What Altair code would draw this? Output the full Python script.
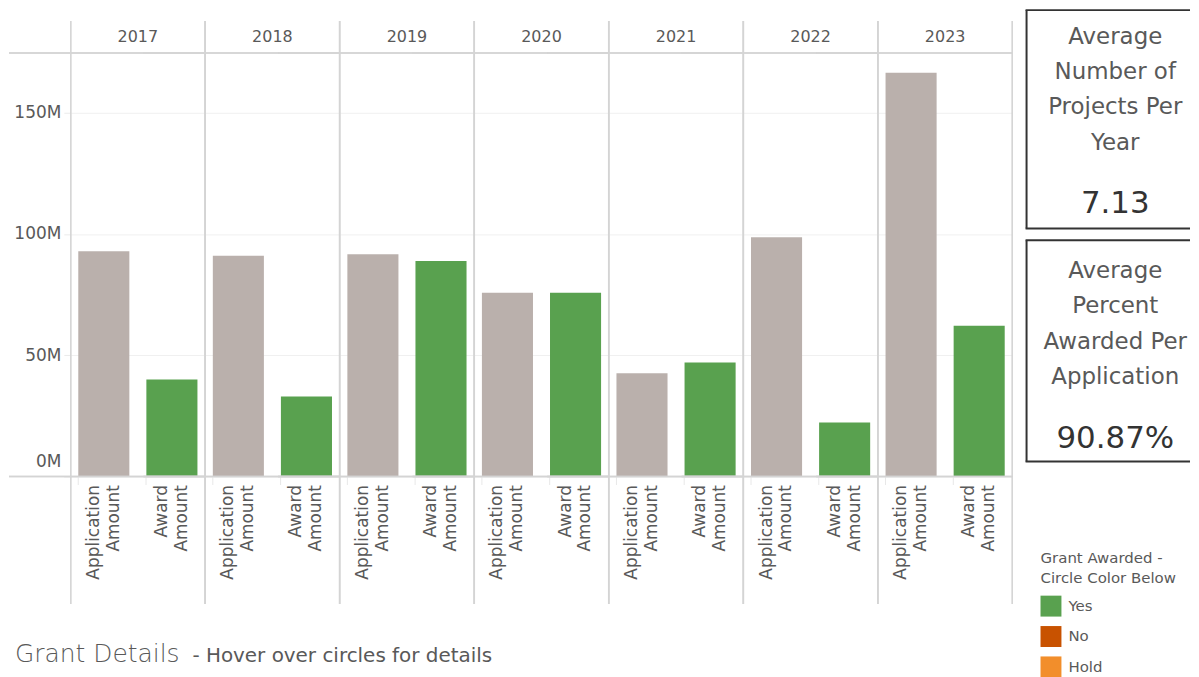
import altair as alt
import pandas as pd

# ---------------- data ----------------
years = ["2017", "2018", "2019", "2020", "2021", "2022", "2023"]
application_amount_m = [92.9, 91.0, 91.6, 75.8, 42.6, 98.6, 166.4]
award_amount_m = [40.0, 33.0, 88.9, 75.8, 47.0, 22.3, 62.2]
measures = ["Application Amount", "Award Amount"]
measure_colors = ["#BAB0AC", "#59A14F"]
y_tick_values_m = [0, 50, 100, 150]
y_max_m = 174.6

kpi_titles = ["Average\nNumber of\nProjects Per\nYear",
              "Average\nPercent\nAwarded Per\nApplication"]
kpi_values = ["7.13", "90.87%"]

legend_title = ["Grant Awarded -", "Circle Color Below"]
legend_labels = ["Yes", "No", "Hold"]
legend_colors = ["#59A14F", "#C85200", "#F28E2B"]

details_title = "Grant Details"
details_subtitle = "- Hover over circles for details"

rows = []
for i, yr in enumerate(years):
    rows.append({"year": yr, "measure": measures[0], "value": application_amount_m[i] * 1e6})
    rows.append({"year": yr, "measure": measures[1], "value": award_amount_m[i] * 1e6})
df = pd.DataFrame(rows)

FONT = "DejaVu Sans"
TXT = "#595959"
LINE = "#d4d4d4"
W, H = 134.6, 425

# ---------------- bar facets ----------------
y_axis = alt.Axis(
    values=[v * 1e6 for v in y_tick_values_m],
    labelExpr="(datum.value / 1e6) + 'M'",
    labelFont=FONT, labelFontSize=17, labelColor=TXT, labelPadding=3,
    tickSize=7, tickColor="#ebebeb", domain=False,
    grid=True, gridColor="#f0f0f0", gridWidth=1,
    minExtent=62, maxExtent=62,
    labelOffset={"condition": {"test": "datum.value == 0", "value": -15}, "value": 0},
)
x_axis = alt.Axis(
    labelAngle=-90, labelExpr="split(datum.label, ' ')", labelLineHeight=20,
    labelFont=FONT, labelFontSize=17, labelColor=TXT, labelPadding=0,
    labelAlign="right", labelBaseline="middle", labelOffset=-10,
    ticks=True, tickSize=8, tickColor="#e8e8e8", bandPosition=0, domain=False,
)

bars = alt.Chart().mark_bar().encode(
    x=alt.X("measure:N", sort=measures, title=None,
            scale=alt.Scale(paddingInner=0.25, paddingOuter=0.11), axis=x_axis),
    y=alt.Y("value:Q", title=None,
            scale=alt.Scale(domain=[0, y_max_m * 1e6], nice=False), axis=y_axis),
    color=alt.Color("measure:N", scale=alt.Scale(domain=measures, range=measure_colors), legend=None),
)
# panel dividers (invisible part only reserves header room)
vspace = alt.Chart().mark_rule(opacity=0).encode(
    x=alt.value(0), y=alt.value(-44), y2=alt.value(-32))
vleft = alt.Chart().mark_rule(color=LINE, strokeWidth=1.2).encode(
    x=alt.value(0), y=alt.value(-32), y2=alt.value(553))
vright = alt.Chart().mark_rule(color=LINE, strokeWidth=1.2).encode(
    x=alt.value(W), y=alt.value(-32), y2=alt.value(553))
htop = alt.Chart().mark_rule(color=LINE, strokeWidth=1.5).encode(
    y=alt.value(0), x=alt.value(-62), x2=alt.value(W))
hbot = alt.Chart().mark_rule(color=LINE, strokeWidth=1.5).encode(
    y=alt.value(H), x=alt.value(-62), x2=alt.value(W))

cells = alt.layer(bars, vspace, vleft, vright, htop, hbot, data=df).properties(width=W, height=H)
facet = cells.facet(
    column=alt.Column("year:N", sort=years, title=None,
                      header=alt.Header(labelOrient="top", labelFont=FONT, labelFontSize=16,
                                        labelColor=TXT, labelPadding=8)),
    spacing=0, bounds="flush",
)

# ---------------- bottom caption ----------------
details = alt.layer(
    alt.Chart(pd.DataFrame({"t": [details_title]})).mark_text(
        font=FONT, fontSize=25, fontWeight=300, color=TXT, align="left", baseline="alphabetic"
    ).encode(text="t:N", x=alt.value(-56), y=alt.value(37)),
    alt.Chart(pd.DataFrame({"t": [details_subtitle]})).mark_text(
        font=FONT, fontSize=20, color=TXT, align="left", baseline="alphabetic"
    ).encode(text="t:N", x=alt.value(122), y=alt.value(37)),
).properties(width=540, height=40)

# ---------------- right column: KPI boxes + legend ----------------
RW = 165
CX = 90
box_tops = [-43, 188]
box_bottoms = [176, 410]
title_y = [-27.3, 207.7]
value_y = [161, 396]
BOX = "#333333"

right_layers = []
for k in range(2):
    one = pd.DataFrame({"k": [k]})
    right_layers.append(alt.Chart(one).mark_rule(color=BOX, strokeWidth=2).encode(
        x=alt.value(0), x2=alt.value(RW), y=alt.value(box_tops[k])))
    right_layers.append(alt.Chart(one).mark_rule(color=BOX, strokeWidth=2).encode(
        x=alt.value(0), x2=alt.value(RW), y=alt.value(box_bottoms[k])))
    right_layers.append(alt.Chart(one).mark_rule(color=BOX, strokeWidth=2).encode(
        x=alt.value(1), y=alt.value(box_tops[k]), y2=alt.value(box_bottoms[k])))
    right_layers.append(
        alt.Chart(pd.DataFrame({"t": [kpi_titles[k]]})).mark_text(
            font=FONT, fontSize=23, color=TXT, align="center", baseline="top",
            lineBreak="\n", lineHeight=35.5
        ).encode(text="t:N", x=alt.value(CX), y=alt.value(title_y[k]))
    )
    right_layers.append(
        alt.Chart(pd.DataFrame({"t": [kpi_values[k]]})).mark_text(
            font=FONT, fontSize=31, color="#333333", align="center", baseline="alphabetic"
        ).encode(text="t:N", x=alt.value(CX), y=alt.value(value_y[k]))
    )

legend_layer = alt.Chart(pd.DataFrame({"status": legend_labels})).mark_square(
    size=0, opacity=0
).encode(
    color=alt.Color(
        "status:N", sort=legend_labels,
        scale=alt.Scale(domain=legend_labels, range=legend_colors),
        legend=alt.Legend(
            title=legend_title, orient="none", legendX=15, legendY=500,
            symbolType="square", symbolSize=441, symbolOpacity=1, symbolStrokeWidth=0,
            labelFont=FONT, labelFontSize=15, labelColor=TXT, labelOffset=7,
            titleFont=FONT, titleFontSize=15, titleFontWeight="normal", titleColor=TXT,
            titleLineHeight=19.5, titlePadding=10, rowPadding=9.5, padding=0,
        ),
    )
)
right_layers.append(legend_layer)
right = alt.layer(*right_layers).properties(width=RW, height=600)

chart = (
    alt.hconcat(alt.vconcat(facet, details, spacing=20), right, spacing=11)
    .resolve_scale(color="independent")
    .properties(padding=0, background="white")
    .configure_view(strokeWidth=0)
)

chart.save("out.html", embed_options={"renderer": "svg", "actions": False})
